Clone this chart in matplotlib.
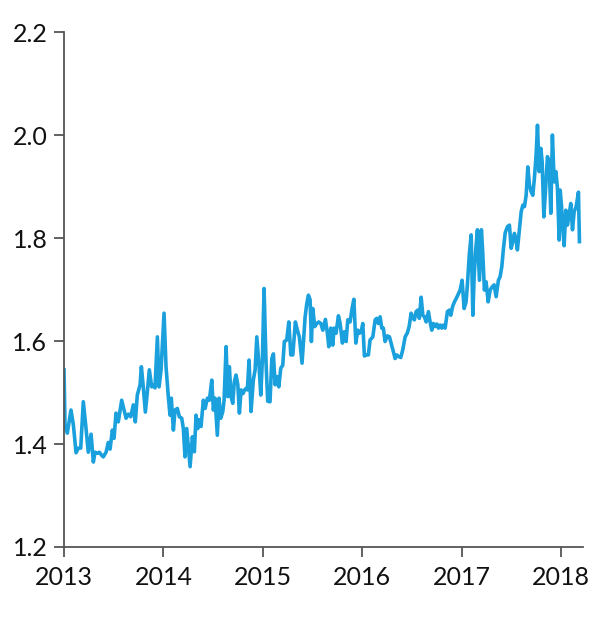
import numpy as np
import matplotlib.pyplot as plt

# series: time in years after 2013, value
t_off = [0.000, 0.010, 0.033, 0.070, 0.094, 0.121, 0.144, 0.168, 0.194, 0.221,
         0.244, 0.272, 0.295, 0.312, 0.335, 0.355, 0.379, 0.395, 0.423, 0.446,
         0.463, 0.486, 0.503, 0.523, 0.546, 0.580, 0.604, 0.624, 0.647, 0.671,
         0.697, 0.717, 0.737, 0.765, 0.778, 0.798, 0.818, 0.838, 0.858, 0.882,
         0.898, 0.915, 0.939, 0.956, 0.976, 1.006, 1.026, 1.049, 1.066, 1.079,
         1.100, 1.117, 1.140, 1.160, 1.184, 1.200, 1.217, 1.234, 1.250, 1.268,
         1.291, 1.311, 1.328, 1.345, 1.361, 1.378, 1.401, 1.419, 1.442, 1.462,
         1.486, 1.502, 1.519, 1.542, 1.559, 1.576, 1.597, 1.610, 1.630, 1.647,
         1.663, 1.680, 1.697, 1.713, 1.730, 1.748, 1.764, 1.781, 1.801, 1.816,
         1.831, 1.844, 1.861, 1.881, 1.904, 1.922, 1.939, 1.962, 1.979, 1.995,
         2.012, 2.032, 2.049, 2.072, 2.090, 2.106, 2.123, 2.140, 2.160, 2.180,
         2.200, 2.216, 2.240, 2.261, 2.281, 2.301, 2.327, 2.347, 2.367, 2.394,
         2.425, 2.442, 2.458, 2.475, 2.488, 2.502, 2.522, 2.542, 2.562, 2.583,
         2.603, 2.629, 2.649, 2.663, 2.683, 2.703, 2.716, 2.736, 2.760, 2.777,
         2.800, 2.820, 2.837, 2.854, 2.877, 2.897, 2.915, 2.935, 2.955, 2.971,
         2.988, 3.005, 3.021, 3.045, 3.061, 3.078, 3.106, 3.129, 3.146, 3.162,
         3.179, 3.196, 3.212, 3.229, 3.252, 3.273, 3.290, 3.313, 3.330, 3.347,
         3.363, 3.387, 3.407, 3.431, 3.454, 3.471, 3.491, 3.508, 3.524, 3.541,
         3.558, 3.574, 3.592, 3.609, 3.625, 3.642, 3.665, 3.682, 3.699, 3.715,
         3.732, 3.750, 3.766, 3.783, 3.800, 3.816, 3.833, 3.856, 3.876, 3.890,
         3.910, 3.927, 3.951, 3.967, 3.984, 4.004, 4.024, 4.044, 4.057, 4.077,
         4.095, 4.112, 4.125, 4.142, 4.158, 4.178, 4.198, 4.212, 4.228, 4.245,
         4.266, 4.286, 4.306, 4.326, 4.346, 4.369, 4.386, 4.403, 4.420, 4.437,
         4.460, 4.480, 4.497, 4.514, 4.530, 4.547, 4.560, 4.581, 4.598, 4.615,
         4.631, 4.648, 4.665, 4.681, 4.698, 4.715, 4.731, 4.748, 4.762, 4.779,
         4.796, 4.809, 4.826, 4.842, 4.862, 4.879, 4.896, 4.912, 4.930, 4.947,
         4.963, 4.980, 4.990, 5.003, 5.017, 5.030, 5.047, 5.063, 5.080, 5.097,
         5.114, 5.131, 5.151, 5.174, 5.184]
values = [1.544, 1.437, 1.421, 1.466, 1.437, 1.383, 1.392, 1.392, 1.482, 1.431,
          1.384, 1.419, 1.365, 1.384, 1.382, 1.384, 1.378, 1.375, 1.384, 1.403,
          1.390, 1.427, 1.411, 1.460, 1.443, 1.485, 1.466, 1.450, 1.458, 1.453,
          1.476, 1.443, 1.495, 1.515, 1.550, 1.509, 1.462, 1.501, 1.544, 1.511,
          1.515, 1.509, 1.608, 1.511, 1.544, 1.654, 1.550, 1.492, 1.456, 1.489,
          1.427, 1.466, 1.469, 1.453, 1.450, 1.430, 1.375, 1.430, 1.395, 1.356,
          1.414, 1.385, 1.456, 1.430, 1.447, 1.434, 1.485, 1.469, 1.489, 1.485,
          1.524, 1.466, 1.489, 1.417, 1.489, 1.450, 1.463, 1.485, 1.589, 1.492,
          1.550, 1.492, 1.479, 1.521, 1.534, 1.515, 1.460, 1.505, 1.498, 1.505,
          1.508, 1.505, 1.563, 1.463, 1.524, 1.544, 1.608, 1.550, 1.495, 1.563,
          1.702, 1.557, 1.483, 1.482, 1.566, 1.575, 1.515, 1.531, 1.511, 1.547,
          1.553, 1.599, 1.602, 1.637, 1.573, 1.573, 1.637, 1.621, 1.608, 1.557,
          1.647, 1.673, 1.689, 1.680, 1.599, 1.663, 1.628, 1.634, 1.637, 1.634,
          1.621, 1.642, 1.615, 1.589, 1.625, 1.592, 1.625, 1.615, 1.649, 1.634,
          1.596, 1.618, 1.599, 1.641, 1.637, 1.663, 1.681, 1.596, 1.621, 1.615,
          1.618, 1.634, 1.571, 1.573, 1.573, 1.602, 1.608, 1.641, 1.644, 1.634,
          1.647, 1.625, 1.625, 1.599, 1.610, 1.608, 1.596, 1.579, 1.566, 1.573,
          1.570, 1.568, 1.583, 1.608, 1.616, 1.628, 1.654, 1.644, 1.641, 1.657,
          1.660, 1.644, 1.685, 1.650, 1.647, 1.637, 1.657, 1.637, 1.621, 1.634,
          1.628, 1.633, 1.625, 1.631, 1.625, 1.631, 1.625, 1.657, 1.660, 1.650,
          1.668, 1.676, 1.685, 1.692, 1.699, 1.718, 1.663, 1.676, 1.709, 1.770,
          1.806, 1.650, 1.725, 1.780, 1.816, 1.718, 1.816, 1.770, 1.699, 1.715,
          1.676, 1.699, 1.705, 1.709, 1.686, 1.718, 1.725, 1.744, 1.780, 1.810,
          1.822, 1.825, 1.780, 1.793, 1.809, 1.796, 1.777, 1.819, 1.851, 1.864,
          1.861, 1.883, 1.938, 1.903, 1.890, 1.883, 1.916, 1.961, 2.019, 1.929,
          1.974, 1.948, 1.841, 1.890, 1.958, 1.948, 1.848, 2.000, 1.909, 1.929,
          1.896, 1.796, 1.893, 1.864, 1.819, 1.785, 1.854, 1.825, 1.845, 1.867,
          1.816, 1.851, 1.861, 1.889, 1.793]

years = [2013, 2014, 2015, 2016, 2017, 2018]
yticks = [1.2, 1.4, 1.6, 1.8, 2.0, 2.2]

t = 2013 + np.array(t_off)

plt.rcParams['font.family'] = ['Lato', 'DejaVu Sans']

fig = plt.figure(figsize=(6, 6.24), dpi=100)
ax = fig.add_axes([0.1067, 0.1234, 0.865, 0.8253])

ax.plot(t, values, color='#1aa0dc', lw=2.6, solid_joinstyle='round')

ax.set_xlim(2013, 2018.22)
ax.set_ylim(1.2, 2.2)
ax.set_xticks(years)
ax.set_xticklabels([str(y) for y in years])
ax.set_yticks(yticks)
ax.set_yticklabels([f'{y:.1f}' for y in yticks])

for s in ['top', 'right']:
    ax.spines[s].set_visible(False)
for s in ['left', 'bottom']:
    ax.spines[s].set_color('#555555')
    ax.spines[s].set_linewidth(1.3)
ax.tick_params(colors='#555555', length=7, width=1.3, labelsize=18,
               labelcolor='#111111')
ax.tick_params(axis='x', pad=7)
ax.tick_params(axis='y', pad=5)

fig.savefig('out.png', dpi=100)
